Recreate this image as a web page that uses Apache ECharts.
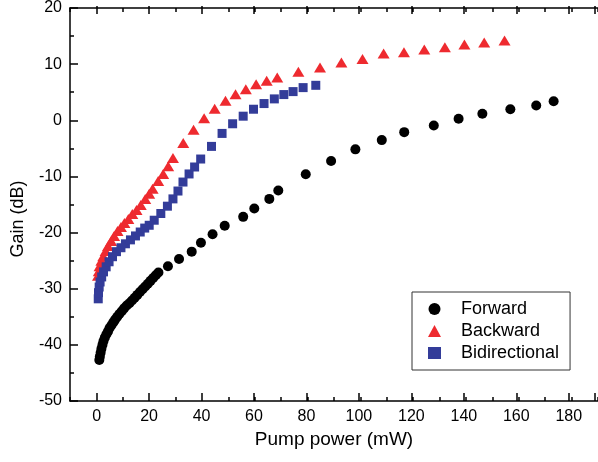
<!DOCTYPE html>
<html>
<head>
<meta charset="utf-8">
<script src="https://cdn.jsdelivr.net/npm/echarts@6/dist/echarts.min.js"></script>
<style>
html,body{margin:0;padding:0;background:#fff;}
#chart{width:598px;height:462px;}
</style>
</head>
<body>
<div id="chart"></div>
<script>
// ---- data ----
const seriesNames = ['Forward', 'Backward', 'Bidirectional'];

const forwardPower = [1.1,1.3,1.6,1.9,2.3,2.7,3.2,3.8,4.4,5.0,5.7,6.4,7.1,7.9,8.7,9.6,10.5,11.5,12.5,13.5,14.5,15.5,16.5,17.5,18.5,19.5,20.5,21.5,22.5,23.5,27.1,31.3,36.1,39.6,44.0,48.6,55.6,59.8,65.5,68.9,79.3,88.9,98.1,108.1,116.6,127.8,137.2,146.2,156.8,166.6,173.2];
const forwardGain = [-42.7,-42.1,-41.4,-40.7,-40.0,-39.3,-38.7,-38.1,-37.6,-37.0,-36.5,-36.0,-35.5,-35.0,-34.5,-34.0,-33.5,-33.0,-32.6,-32.1,-31.6,-31.1,-30.6,-30.1,-29.6,-29.1,-28.6,-28.1,-27.6,-27.1,-26.0,-24.7,-23.4,-21.8,-20.3,-18.8,-17.2,-15.7,-14.0,-12.5,-9.6,-7.25,-5.18,-3.53,-2.11,-0.92,0.26,1.15,1.97,2.62,3.39];

const backwardPower = [0.6,0.9,1.2,1.9,2.6,3.5,4.4,5.6,6.7,8.0,9.3,10.6,12.1,13.6,15.2,16.8,18.5,20.0,21.3,23.4,25.3,27.2,29.0,32.9,36.8,40.8,44.8,48.9,52.7,56.6,60.5,64.5,68.5,76.5,84.7,92.8,100.8,108.8,116.5,124.2,132.0,139.4,146.9,154.6];
const backwardGain = [-27.7,-26.9,-26.0,-25.0,-24.2,-23.3,-22.4,-21.5,-20.6,-19.7,-19.0,-18.3,-17.6,-16.7,-16.0,-15.1,-14.0,-13.1,-12.2,-10.8,-9.56,-8.19,-6.72,-4.06,-1.69,0.37,2.04,3.46,4.63,5.52,6.40,7.06,7.6,8.66,9.42,10.3,10.9,11.9,12.1,12.6,13.0,13.5,13.85,14.2];

const bidirPower = [0.7,0.8,1.05,1.4,2.0,2.7,3.7,4.8,6.1,7.6,9.3,11.0,12.9,14.8,16.6,18.3,20.0,21.9,24.4,26.9,29.0,30.9,32.8,35.1,37.2,39.5,43.6,47.6,51.6,55.6,59.5,63.5,67.4,71.0,74.5,78.3,83.1];
const bidirGain = [-31.8,-30.7,-29.7,-28.8,-27.9,-27.0,-26.1,-25.2,-24.3,-23.4,-22.7,-22.0,-21.3,-20.6,-19.9,-19.2,-18.7,-17.8,-16.6,-15.3,-14.0,-12.6,-11.0,-9.56,-8.32,-6.90,-4.65,-2.34,-0.62,0.73,1.97,2.98,3.81,4.58,5.11,5.82,6.23];

const xTitle = 'Pump power (mW)';
const yTitle = 'Gain (dB)';

// ---- chart ----
const FONT = '"Liberation Sans", Arial, Helvetica, sans-serif';
const pairs = (xs, ys) => xs.map((x, i) => [x, ys[i]]);
const chart = echarts.init(document.getElementById('chart'), null, {renderer: 'canvas'});

const lineStyle = {color: '#000', width: 1.5};
const GRID_A = {left: 70, right: -4, top: 6, bottom: 61};
const GRID_B = {left: 96.6, right: -4, top: 6, bottom: 61};

const option = {
  backgroundColor: '#fff',
  animation: false,
  textStyle: {fontFamily: FONT},
  grid: [GRID_A, GRID_B],
  xAxis: [
    { // data axis, bottom, minor ticks + axis line
      type: 'value', gridIndex: 0, position: 'bottom', min: -10, max: 190, interval: 10,
      axisLine: {show: true, onZero: false, lineStyle}, axisTick: {show: true, inside: true, length: 4, lineStyle},
      axisLabel: {show: false}, splitLine: {show: false}
    },
    { // major ticks + labels, bottom
      type: 'value', gridIndex: 1, position: 'bottom', min: 0, max: 190, interval: 20,
      axisLine: {show: false, onZero: false}, axisTick: {show: true, inside: true, length: 8, lineStyle},
      axisLabel: {show: true, margin: 8, fontSize: 16, color: '#000', fontFamily: FONT,
        formatter: v => (v % 20 === 0 && v <= 180) ? String(v) : ''},
      splitLine: {show: false}
    },
    { // top frame, minor ticks
      type: 'value', gridIndex: 0, position: 'top', min: -10, max: 190, interval: 10,
      axisLine: {show: true, onZero: false, lineStyle}, axisTick: {show: true, inside: true, length: 4, lineStyle},
      axisLabel: {show: false}, splitLine: {show: false}
    },
    { // top frame, major ticks
      type: 'value', gridIndex: 1, position: 'top', min: 0, max: 190, interval: 20,
      axisLine: {show: false, onZero: false}, axisTick: {show: true, inside: true, length: 8, lineStyle},
      axisLabel: {show: false}, splitLine: {show: false}
    }
  ],
  yAxis: [
    {
      type: 'value', gridIndex: 0, position: 'left', min: -50, max: 20, interval: 10,
      axisLine: {show: true, onZero: false, lineStyle}, axisTick: {show: true, inside: true, length: 8, lineStyle},
      minorTick: {show: true, splitNumber: 2, length: 4, lineStyle},
      axisLabel: {show: true, margin: 8, fontSize: 16, color: '#000', fontFamily: FONT},
      splitLine: {show: false}
    },
    {
      type: 'value', gridIndex: 1, position: 'left', min: -50, max: 20, show: false,
      axisLine: {onZero: false}
    }
  ],
  legend: {
    orient: 'vertical', left: 412, top: 292,
    padding: [8, 11, 8, 16], itemGap: 4, itemWidth: 13, itemHeight: 12,
    borderColor: '#333', borderWidth: 1, backgroundColor: '#fff',
    textStyle: {fontSize: 18, color: '#000', fontFamily: FONT, padding: [0, 0, 0, 15]},
    data: [
      {name: seriesNames[0], icon: 'circle'},
      {name: seriesNames[1], icon: 'triangle'},
      {name: seriesNames[2], icon: 'rect', itemStyle: {color: '#333c99'}}
    ]
  },
  graphic: [
    {type: 'text', x: 18, y: 219, rotation: Math.PI / 2,
      style: {text: yTitle, fontSize: 18, fontFamily: FONT, fill: '#000', align: 'center', verticalAlign: 'middle'}},
    {type: 'text', x: 334, y: 440,
      style: {text: xTitle, fontSize: 19, fontFamily: FONT, fill: '#000', align: 'center', verticalAlign: 'middle'}}
  ],
  series: [
    {name: seriesNames[0], type: 'scatter', xAxisIndex: 0, yAxisIndex: 0, symbol: 'circle', symbolSize: 10,
      itemStyle: {color: '#000', opacity: 1}, data: pairs(forwardPower, forwardGain)},
    {name: seriesNames[1], type: 'scatter', xAxisIndex: 0, yAxisIndex: 0, symbol: 'triangle', symbolSize: [12, 10],
      itemStyle: {color: '#ee2a2f', opacity: 1}, data: pairs(backwardPower, backwardGain)},
    {name: seriesNames[2], type: 'scatter', xAxisIndex: 0, yAxisIndex: 0, symbol: 'rect', symbolSize: 9,
      itemStyle: {color: '#333c99', opacity: 1}, data: pairs(bidirPower, bidirGain)}
  ]
};
chart.setOption(option);
</script>
</body>
</html>
